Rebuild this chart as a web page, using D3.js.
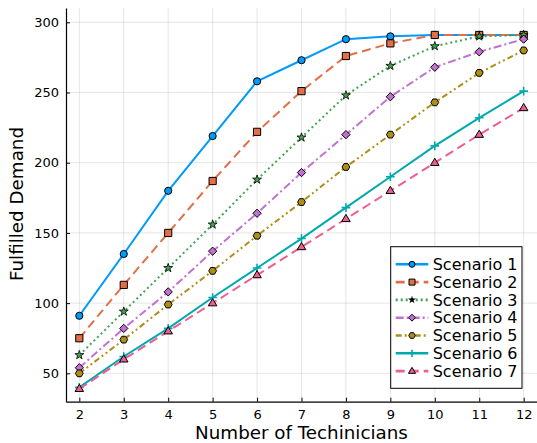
<!doctype html>
<html lang='en'>

<head>
    <meta charset='UTF-8'>
    <title>Fulfilled Demand</title>
    <style>
        html,
        body {
            margin: 0;
            background: #fff;
        }

        svg text {
            font-family: "DejaVu Sans", sans-serif;
            fill: #000;
        }
    </style>
</head>

<body>
    <script src='https://cdn.jsdelivr.net/npm/d3@7'></script>
    <div class='chart'></div>
    <script>
        /* Data */
        const technicians = [2, 3, 4, 5, 6, 7, 8, 9, 10, 11, 12];
        const scenario1 = [91, 135, 180, 219, 258, 273, 288, 290, 291, 291, 291];
        const scenario2 = [75, 113, 150, 187, 222, 251, 276, 285, 291, 291, 291];
        const scenario3 = [63, 94, 125, 156, 188, 218, 248, 269, 283, 290, 291];
        const scenario4 = [54, 82, 108, 137, 164, 193, 220, 247, 268, 279, 288];
        const scenario5 = [50, 74, 99, 123, 148, 172, 197, 220, 243, 264, 280];
        const scenario6 = [40, 62, 82, 104, 125, 146, 168, 190, 212, 232, 251];
        const scenario7 = [39, 60, 80, 100, 120, 140, 160, 180, 200, 220, 239];
        const seriesNames = ['Scenario 1', 'Scenario 2', 'Scenario 3', 'Scenario 4',
            'Scenario 5', 'Scenario 6', 'Scenario 7'];
        const xTicks = [2, 3, 4, 5, 6, 7, 8, 9, 10, 11, 12];
        const yTicks = [50, 100, 150, 200, 250, 300];

        const allSeries = [scenario1, scenario2, scenario3, scenario4,
            scenario5, scenario6, scenario7];

        const config = {
            width: 537,
            height: 443,
            plot: { left: 66, right: 537, top: 8, bottom: 401.7 },
            xDomain: [1.7, 12.3],
            yDomain: [29.8, 310.2],
            colors: ['#009af9', '#e26f46', '#3ea44e', '#c271d2', '#ac8e18', '#00a9ad', '#ed5e93'],
            dashes: [null, '9,5', '2,3', '8,3,2,3', '6,3,2,3,2,3', null, '9,5'],
            markers: ['circle', 'square', 'star', 'diamond', 'hexagon', 'cross', 'triangle'],
            legend: { x: 390.7, y: 246.7, w: 131.3, h: 141.6, row: 17.8 }
        };

        const { width, height, plot } = config;

        const svg = d3.select('.chart')
            .append('svg')
            .attr('width', width)
            .attr('height', height);

        const x = d3.scaleLinear().domain(config.xDomain).range([plot.left, plot.right]);
        const y = d3.scaleLinear().domain(config.yDomain).range([plot.bottom, plot.top]);

        // grid
        const grid = svg.append('g')
            .attr('stroke', '#000')
            .attr('stroke-opacity', 0.1)
            .attr('stroke-width', 1);

        grid.selectAll('.vgrid')
            .data(xTicks)
            .enter()
            .append('line')
            .attr('x1', (d) => x(d))
            .attr('x2', (d) => x(d))
            .attr('y1', plot.top)
            .attr('y2', plot.bottom);

        grid.selectAll('.hgrid')
            .data(yTicks)
            .enter()
            .append('line')
            .attr('x1', plot.left)
            .attr('x2', plot.right)
            .attr('y1', (d) => y(d))
            .attr('y2', (d) => y(d));

        // axes, ticks pointing into the plot
        const xAxis = svg.append('g')
            .attr('transform', 'translate(0,' + plot.bottom + ')')
            .call(d3.axisBottom(x).tickValues(xTicks).tickSizeInner(-4).tickSizeOuter(0).tickPadding(7.6));

        const yAxis = svg.append('g')
            .attr('transform', 'translate(' + plot.left + ',0)')
            .call(d3.axisLeft(y).tickValues(yTicks).tickSizeInner(-4).tickSizeOuter(0).tickPadding(7));

        [xAxis, yAxis].forEach((axis) => {
            axis.select('.domain').attr('stroke', '#000').attr('stroke-width', 1.2);
            axis.selectAll('.tick line').attr('stroke', '#000').attr('stroke-width', 1);
            axis.selectAll('.tick text')
                .style('font-family', '"DejaVu Sans", sans-serif')
                .style('font-size', '13px')
                .attr('fill', '#000');
        });

        // axis titles
        svg.append('text')
            .attr('x', (plot.left + plot.right) / 2)
            .attr('y', 439)
            .attr('text-anchor', 'middle')
            .style('font-size', '18.3px')
            .text('Number of Techinicians');

        svg.append('text')
            .attr('transform', 'translate(22.5,' + 204 + ') rotate(-90)')
            .attr('text-anchor', 'middle')
            .style('font-size', '18.3px')
            .text('Fulfilled Demand');

        // marker shapes
        function markerPath(type, s) {
            if (type === 'circle') {
                return d3.symbol(d3.symbolCircle, Math.PI * s * s)();
            }
            if (type === 'square') {
                return 'M' + -s + ',' + -s + 'H' + s + 'V' + s + 'H' + -s + 'Z';
            }
            if (type === 'star') {
                return d3.symbol(d3.symbolStar, 1.9 * s * s)();
            }
            if (type === 'diamond') {
                const d = s * 1.15;
                return 'M0,' + -d + 'L' + d + ',0L0,' + d + 'L' + -d + ',0Z';
            }
            if (type === 'hexagon') {
                const pts = d3.range(6).map((i) => {
                    const a = Math.PI / 3 * i;
                    return [s * 1.08 * Math.cos(a), s * 1.08 * Math.sin(a)];
                });
                return 'M' + pts.join('L') + 'Z';
            }
            if (type === 'cross') {
                const c = s * 1.2;
                return 'M' + -c + ',0H' + c + 'M0,' + -c + 'V' + c;
            }
            // up triangle
            const t = s * 1.25;
            return 'M0,' + (-t) + 'L' + (t * 0.95) + ',' + (t * 0.6) + 'L' + (-t * 0.95) + ',' + (t * 0.6) + 'Z';
        }

        function drawMarker(sel, i, s) {
            const type = config.markers[i];
            const color = config.colors[i];
            if (type === 'cross') {
                sel.append('path')
                    .attr('d', markerPath(type, s))
                    .attr('fill', 'none')
                    .attr('stroke', color)
                    .attr('stroke-width', 1.6);
            } else {
                sel.append('path')
                    .attr('d', markerPath(type, s))
                    .attr('fill', color)
                    .attr('stroke', '#000')
                    .attr('stroke-width', type === 'star' ? 0.8 : 1);
            }
        }

        const line = d3.line()
            .x((d) => x(d[0]))
            .y((d) => y(d[1]));

        // series, later ones on top
        allSeries.forEach((values, i) => {
            const points = technicians.map((t, j) => [t, values[j]]);
            const g = svg.append('g').classed('series', true);

            g.append('path')
                .datum(points)
                .attr('d', line)
                .attr('fill', 'none')
                .attr('stroke', config.colors[i])
                .attr('stroke-width', 2)
                .attr('stroke-dasharray', config.dashes[i]);

            g.selectAll('.marker')
                .data(points)
                .enter()
                .append('g')
                .classed('marker', true)
                .attr('transform', (d) => 'translate(' + x(d[0]) + ',' + y(d[1]) + ')')
                .each(function () {
                    drawMarker(d3.select(this), i, 3.6);
                });
        });

        // legend
        const lg = config.legend;
        const legend = svg.append('g');

        legend.append('rect')
            .attr('x', lg.x)
            .attr('y', lg.y)
            .attr('width', lg.w)
            .attr('height', lg.h)
            .attr('fill', '#fff')
            .attr('stroke', '#000')
            .attr('stroke-width', 1);

        const rows = legend.selectAll('.row')
            .data(seriesNames)
            .enter()
            .append('g')
            .classed('row', true)
            .attr('transform', (d, i) => 'translate(0,' + (lg.y + 17.6 + i * lg.row) + ')');

        rows.append('line')
            .attr('x1', lg.x + 5)
            .attr('x2', lg.x + 37.6)
            .attr('y1', 0)
            .attr('y2', 0)
            .attr('stroke', (d, i) => config.colors[i])
            .attr('stroke-width', 2.6)
            .attr('stroke-dasharray', (d, i) => config.dashes[i]);

        rows.each(function (d, i) {
            const m = d3.select(this).append('g')
                .attr('transform', 'translate(' + (lg.x + 21.3) + ',0)');
            if (config.markers[i] === 'star') {
                m.append('path')
                    .attr('d', markerPath('star', 3.2))
                    .attr('fill', '#000');
            } else {
                drawMarker(m, i, 3);
            }
        });

        rows.append('text')
            .attr('x', lg.x + 42)
            .attr('y', 0)
            .attr('dy', '0.36em')
            .style('font-size', '16px')
            .text((d) => d);
    </script>
</body>

</html>
